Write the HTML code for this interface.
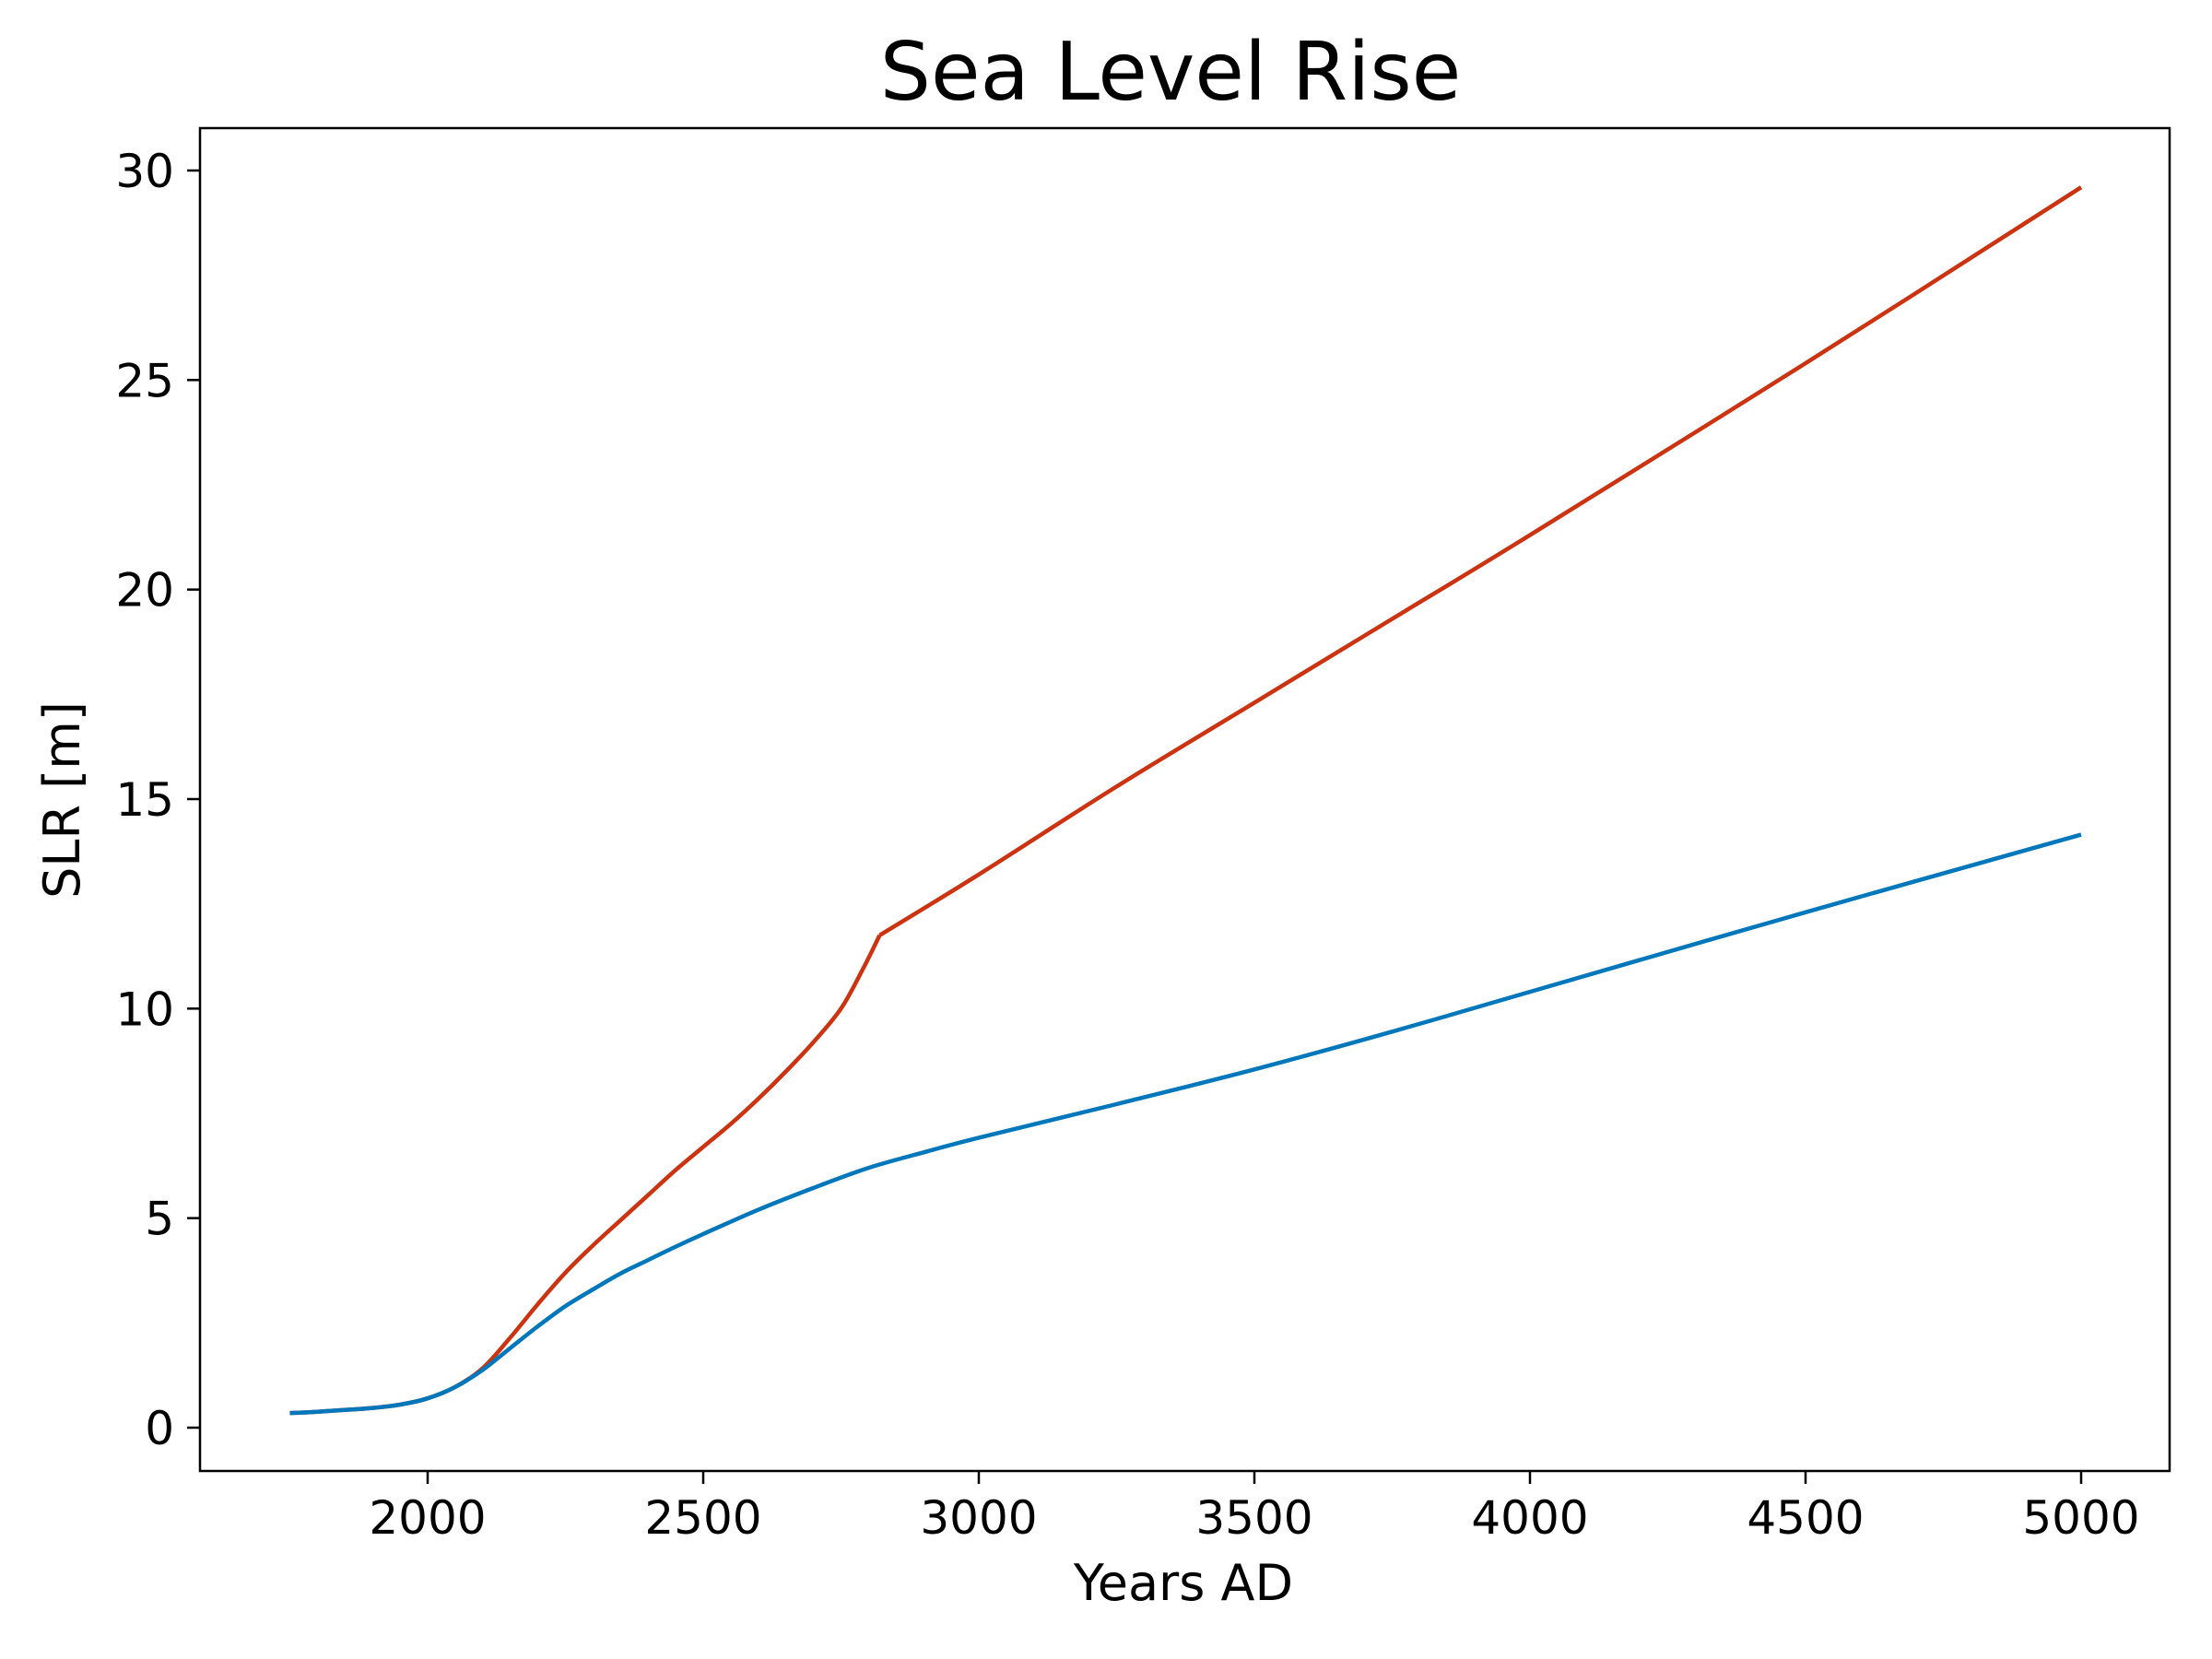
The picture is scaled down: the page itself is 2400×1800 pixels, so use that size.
<!DOCTYPE html>
<html><head><meta charset="utf-8"><style>
html,body{margin:0;padding:0;background:#fff;}
svg{display:block;font-family:"DejaVu Sans","Liberation Sans",sans-serif;}
</style></head><body>
<svg id="chart" width="2400" height="1800" viewBox="0 0 2400 1800">
<rect width="2400" height="1800" fill="#fff"/>
<text x="1270" y="108" font-size="87" text-anchor="middle">Sea Level Rise</text>
<g id="plot"></g>
<text x="1284" y="1736" font-size="54" text-anchor="middle">Years AD</text>
<text transform="translate(86,868) rotate(-90)" font-size="54" text-anchor="middle">SLR [m]</text>
</svg>
<script>
const years = [1750,1800,1900,1950,2000,2050,2100,2150,2200,2250,2300,2350,2400,2450,2500,2600,2700,2800,2900,3000,3250,3500,3750,4000,4500,5000];
const blueSLR = [0.35,0.38,0.47,0.55,0.7,0.97,1.38,1.9,2.42,2.9,3.3,3.68,4.0,4.32,4.62,5.2,5.72,6.2,6.57,6.92,7.72,8.55,9.45,10.4,12.3,14.15];
const redYears = [1750,1800,1900,1950,2000,2050,2100,2150,2200,2250,2300,2350,2400,2450,2500,2550,2600,2650,2700,2750,2790,2820,3000,3250,3500,3750,4000,4500,5000];
const redSLR = [0.35,0.38,0.47,0.55,0.7,0.97,1.42,2.15,2.95,3.7,4.35,4.95,5.55,6.15,6.7,7.25,7.85,8.5,9.2,10.0,10.95,11.75,13.2,15.3,17.3,19.3,21.3,25.4,29.6];
const redBreakYear = [2820];
const xTicks = [2000,2500,3000,3500,4000,4500,5000];
const yTicks = [0,5,10,15,20,25,30];

const L=217,R=2354,T=139,B=1596;
function xs(v){return 464+(v-2000)*(2258-464)/3000;}
function ys(v){return 1549-v*(1549-185)/30;}
const NS='http://www.w3.org/2000/svg';
const g=document.getElementById('plot');
function mk(tag,attrs){const e=document.createElementNS(NS,tag);for(const k in attrs)e.setAttribute(k,attrs[k]);g.appendChild(e);return e;}

xTicks.forEach(t=>{
  const l=mk('line',{x1:xs(t),x2:xs(t),y1:B,y2:B+14,stroke:'#000','stroke-width':2.5});
  
  
  const tx=mk('text',{x:xs(t),y:B+68,'font-size':50,'text-anchor':'middle'});
  tx.textContent=t;
  
  
});
yTicks.forEach(t=>{
  const l=mk('line',{x1:L-14,x2:L,y1:ys(t),y2:ys(t),stroke:'#000','stroke-width':2.5});
  
  
  const tx=mk('text',{x:L-28,y:ys(t)+18,'font-size':50,'text-anchor':'end'});
  tx.textContent=t;
  
  
});
function smoothPath(pts){
  let d='M'+pts[0][0].toFixed(1)+','+pts[0][1].toFixed(1);
  for(let i=0;i<pts.length-1;i++){
    const p0=pts[i-1]||pts[i],p1=pts[i],p2=pts[i+1],p3=pts[i+2]||pts[i+1];
    const c1=[p1[0]+(p2[0]-p0[0])/6,p1[1]+(p2[1]-p0[1])/6];
    const c2=[p2[0]-(p3[0]-p1[0])/6,p2[1]-(p3[1]-p1[1])/6];
    d+=' C'+c1[0].toFixed(1)+','+c1[1].toFixed(1)+' '+c2[0].toFixed(1)+','+c2[1].toFixed(1)+' '+p2[0].toFixed(1)+','+p2[1].toFixed(1);
  }
  return d;
}
function line(xv,yv,color,name,breaks){
  const pts=xv.map((x,i)=>[xs(x),ys(yv[i])]);
  let segs=[],cur=[];
  xv.forEach((x,i)=>{cur.push(pts[i]);if(breaks.indexOf(x)>=0){segs.push(cur);cur=[pts[i]];}});
  segs.push(cur);
  const d=segs.filter(s=>s.length>1).map(smoothPath).join(' ');
  const p=mk('path',{d:d,fill:'none',stroke:color,'stroke-width':4.5,'stroke-linejoin':'round'});
  
  
}
line(redYears,redSLR,'#cc3311','red-series-line',redBreakYear);
line(years,blueSLR,'#0077bb','blue-series-line',[]);
const fr=mk('rect',{x:L,y:T,width:R-L,height:B-T,fill:'none',stroke:'#000','stroke-width':2.5});


</script>
</body></html>
